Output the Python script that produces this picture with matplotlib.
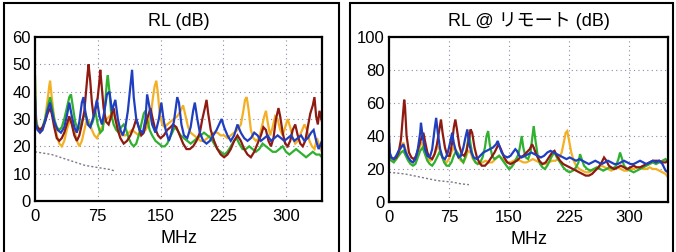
import matplotlib
matplotlib.use("Agg")
import matplotlib.pyplot as plt
from matplotlib.patches import Rectangle

plt.rcParams['font.family'] = ['Liberation Sans', 'Noto Sans CJK JP', 'DejaVu Sans']

# ---- left panel: RL (dB) ----
l_blue_f = [0,1,3,6,9,12,15,18,20,23,27,31,35,38,41,44,47,50,53,56,58,60,63,66,70,74,77,80,83,86,89,92,96,99,102,105,108,111,114,116,118,121,125,129,132,134,137,140,144,148,151,154,157,160,163,166,170,172,175,178,182,186,189,191,194,197,201,205,209,213,217,220,223,226,230,234,238,242,246,250,254,258,262,266,270,274,278,282,286,290,294,298,302,306,310,314,318,322,326,330,333,336,339,343]
l_blue_v = [38,28,26,25,26,29,33,36,33,29,26,25,27,31,36,31,27,25,29,36,38,33,28,27,31,37,31,28,33,39,40,33,37,30,26,24,27,33,42,48,38,30,26,25,30,39,34,28,25,30,36,29,25,22,25,29,38,36,28,24,23,27,33,36,30,25,22,21,22,24,26,28,30,27,24,22,24,28,25,23,22,23,25,24,22,23,24,22,23,24,23,22,23,24,22,23,24,22,23,25,26,22,19,22]

l_red_f = [0,1,3,6,9,12,15,18,20,23,26,29,32,35,38,41,44,47,50,53,56,59,61,63,64,66,68,70,72,75,77,78,80,82,85,88,91,94,96,99,102,106,110,114,118,121,124,127,130,133,136,138,140,143,147,150,154,158,162,165,169,173,177,181,185,189,193,197,200,203,205,207,210,214,218,222,226,230,234,238,242,246,250,254,258,262,266,270,273,276,279,282,285,288,291,293,296,299,302,305,308,311,314,317,320,323,326,329,332,334,336,338,340,343]
l_red_v = [37,28,27,26,27,29,32,34,32,27,23,22,23,25,28,31,28,24,22,24,28,33,40,47,50,44,36,31,33,38,44,48,41,34,29,28,31,34,30,26,23,21,22,24,27,30,27,24,25,29,32,34,31,27,24,23,24,26,27,28,27,24,21,19,19,20,22,25,30,34,37,32,26,22,19,17,16,17,19,22,24,22,19,17,16,18,21,24,27,26,22,20,23,30,34,31,25,21,20,22,26,28,24,21,20,22,27,32,35,38,31,28,33,29]

l_green_f = [0,1,3,6,9,12,15,18,20,23,26,29,32,35,38,41,43,45,48,51,54,57,60,63,66,69,72,75,78,81,84,86,87,89,91,94,97,100,103,106,109,112,115,118,121,124,127,130,132,134,137,140,144,148,152,155,158,161,164,167,170,174,178,182,186,190,194,198,202,206,210,214,218,222,226,230,234,238,241,244,248,252,256,260,264,268,272,276,280,284,288,292,296,300,304,308,312,316,320,324,328,332,336,340,343]
l_green_v = [46,30,27,26,27,30,34,38,35,30,27,26,27,30,34,38,39,35,29,26,27,30,32,29,27,29,33,28,25,26,36,44,46,40,32,28,26,25,27,28,26,23,21,20,21,24,28,32,33,30,26,24,22,21,20,20,21,23,25,27,26,24,23,22,21,22,23,24,25,24,23,21,19,18,17,18,20,22,23,21,19,19,20,19,18,19,21,20,19,18,18,19,20,18,17,18,19,18,17,16,17,18,17,17,16]

l_orange_f = [0,1,3,6,9,12,15,17,18,20,23,26,29,32,35,38,41,44,47,50,53,56,59,62,65,68,71,74,77,80,83,86,89,92,95,98,101,104,108,112,116,120,124,128,132,136,139,141,143,145,147,149,152,155,158,162,166,170,174,177,180,183,186,190,194,198,202,206,210,214,218,222,226,230,234,238,242,246,249,251,253,255,258,261,264,268,271,274,276,278,281,284,287,290,293,296,299,302,305,308,311,314,318,322,325,328,331,334,337,340,343]
l_orange_v = [45,32,27,25,26,30,37,42,44,38,30,24,21,20,22,26,29,30,26,22,20,22,26,30,29,26,24,23,25,27,29,30,31,32,31,29,26,24,24,25,26,25,24,25,26,28,33,38,42,44,39,32,28,27,28,29,30,31,33,35,31,27,25,24,23,22,22,23,24,25,25,24,24,23,24,25,26,28,33,37,38,34,26,23,22,23,27,31,33,29,24,27,31,30,26,24,27,30,27,23,21,22,25,28,26,22,20,19,23,20,18]

l_gray_f = [0,10,20,30,40,50,60,70,80,90,95]
l_gray_v = [18,17.5,17,16,15,14,13,12.5,12,11.5,11]

# ---- right panel: RL @ remote (dB) ----
r_blue_f = [0,1,3,6,9,12,15,18,21,24,27,30,33,36,39,40,42,45,48,51,54,57,59,61,64,67,70,73,76,79,81,84,87,90,93,96,98,100,103,106,110,114,118,122,126,130,134,136,138,141,144,148,152,155,158,160,163,166,170,174,178,182,186,190,194,198,202,206,210,214,218,222,226,230,234,238,242,246,250,254,258,262,266,270,274,278,282,286,290,294,298,302,306,310,314,318,322,326,330,334,338,342,346,349]
r_blue_v = [40,30,27,26,28,31,33,35,30,27,25,24,26,32,42,48,40,32,28,27,32,44,51,42,32,27,26,29,35,42,36,30,27,28,33,40,44,36,30,27,26,28,30,31,32,33,35,37,34,30,28,27,28,30,32,31,28,27,28,29,30,29,28,27,28,30,31,30,29,28,27,26,27,26,25,26,25,24,23,24,25,24,23,24,25,24,23,23,24,25,24,23,23,24,25,24,23,24,25,24,25,23,19,18]

r_red_f = [0,1,3,6,9,12,15,17,19,20,22,25,28,31,34,37,40,43,45,48,51,54,57,60,63,65,67,70,73,76,79,81,83,85,88,91,94,97,100,102,104,107,110,113,116,120,124,128,132,135,137,140,144,148,152,156,160,164,168,172,176,179,181,184,188,192,196,200,204,207,210,214,218,222,226,230,234,238,242,246,250,254,258,262,266,269,272,275,278,282,286,290,294,298,302,306,310,314,318,322,326,330,334,338,342,346,349]
r_red_v = [35,28,27,26,27,30,38,50,62,58,40,30,27,26,28,33,38,42,37,30,27,26,29,35,44,50,42,33,28,28,36,45,50,44,34,29,28,31,38,44,42,33,27,24,22,22,24,27,30,33,35,32,27,24,23,24,25,27,28,30,32,35,33,29,25,23,24,27,30,31,28,25,23,22,21,20,19,18,17,16,16,17,19,21,24,27,25,22,21,20,21,22,21,20,21,22,21,21,22,23,24,25,25,25,24,24,25]

r_green_f = [0,1,3,6,9,12,15,18,21,24,27,30,33,36,39,42,45,48,51,54,57,60,63,66,69,72,75,78,81,84,87,90,93,96,99,100,102,105,108,111,114,117,120,122,124,126,129,132,135,138,141,144,147,150,153,156,159,162,164,166,168,171,174,177,179,181,183,186,189,192,195,198,201,204,207,210,214,218,222,226,230,234,237,239,241,244,248,252,256,260,264,268,272,276,280,284,287,289,291,294,298,302,306,310,314,318,322,326,330,334,338,342,346,349]
r_green_v = [28,26,25,24,26,28,30,31,28,25,23,22,23,27,31,33,29,25,23,22,24,27,30,28,24,22,22,24,28,31,29,26,24,28,38,42,35,27,24,23,24,27,33,40,43,35,28,26,27,28,26,24,22,20,21,23,26,29,34,40,33,27,26,30,38,46,38,28,23,21,20,22,25,28,30,27,24,21,19,18,19,21,24,29,26,22,20,19,20,21,20,19,20,21,20,22,26,30,27,22,20,19,18,19,20,21,22,23,24,23,24,25,26,24]

r_orange_f = [0,1,3,6,9,12,15,18,20,23,26,29,32,35,38,41,43,46,49,52,55,58,61,63,66,69,72,75,78,81,84,87,90,93,96,99,102,105,109,113,117,121,125,129,133,137,140,144,148,152,156,160,164,168,172,176,180,184,188,192,196,200,204,208,212,216,219,221,223,225,228,231,234,238,242,246,250,254,258,262,266,270,274,278,282,286,290,294,298,302,306,310,314,318,322,326,330,334,338,342,346,349]
r_orange_v = [33,28,26,25,26,29,33,36,33,28,25,24,25,28,33,36,34,29,26,25,27,30,34,32,28,25,24,26,30,33,31,27,25,24,27,31,30,26,24,23,24,25,24,24,26,28,27,25,24,24,25,26,25,24,24,25,26,25,24,23,23,24,25,25,26,30,37,42,43,38,30,25,22,20,19,18,18,19,20,21,22,21,20,19,20,21,20,19,19,20,20,21,21,20,20,21,20,20,19,18,17,15]

r_gray_f = [0,10,20,30,40,50,60,70,80,90,100]
r_gray_v = [18,17.5,17,16,15,14,13,12.5,12,11,10.5]

xticks = [0, 75, 150, 225, 300]
c_blue, c_red, c_green, c_orange = '#1f3fc0', '#8e1a12', '#2fb02f', '#f4b024'


def draw_panel(ax, series, gray, ymax, ystep, xmax, title):
    for f, v, c in series:
        ax.plot(f, v, color=c, lw=1.6, solid_joinstyle='miter')
    ax.plot(gray[0], gray[1], color='#7a7a8a', lw=1.0, ls=(0, (1.5, 1.5)))
    ax.set_xlim(0, xmax)
    ax.set_ylim(0, ymax)
    ax.set_xticks(xticks)
    ax.set_yticks(list(range(0, ymax + 1, ystep)))
    ax.tick_params(length=0, labelsize=12)
    ax.tick_params(axis='x', pad=6)
    ax.tick_params(axis='y', pad=3)
    ax.grid(True, color='#8a8aa8', lw=0.8, ls=(0, (1, 3)))
    ax.set_axisbelow(True)
    for s in ax.spines.values():
        s.set_linewidth(1.6)
    ax.set_title(title, fontsize=13, pad=8)
    ax.set_xlabel('MHz', fontsize=13, labelpad=4)


fig = plt.figure(figsize=(6.76, 2.52), dpi=100)
fig.patches.append(Rectangle((4/676, -0.05), 335/676, 1.04, transform=fig.transFigure,
                             fill=False, lw=1.5, ec='black'))
fig.patches.append(Rectangle((350/676, -0.05), 323/676, 1.04, transform=fig.transFigure,
                             fill=False, lw=1.5, ec='black'))

ax1 = fig.add_axes([35/676, 51/252, 287/676, 164/252])
draw_panel(ax1,
           [(l_orange_f, l_orange_v, c_orange), (l_green_f, l_green_v, c_green),
            (l_red_f, l_red_v, c_red), (l_blue_f, l_blue_v, c_blue)],
           (l_gray_f, l_gray_v), 60, 10, 343, 'RL (dB)')

ax2 = fig.add_axes([389/676, 50/252, 279/676, 165/252])
draw_panel(ax2,
           [(r_orange_f, r_orange_v, c_orange), (r_green_f, r_green_v, c_green),
            (r_red_f, r_red_v, c_red), (r_blue_f, r_blue_v, c_blue)],
           (r_gray_f, r_gray_v), 100, 20, 349, 'RL @ リモート (dB)')

fig.savefig('out.png', dpi=100)
